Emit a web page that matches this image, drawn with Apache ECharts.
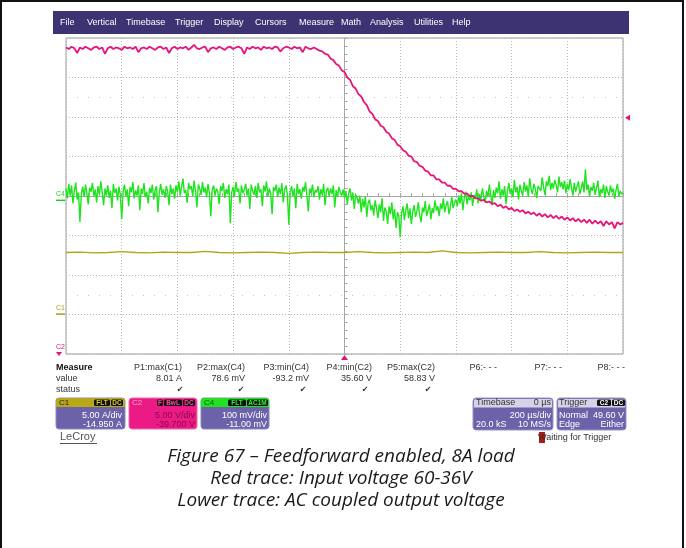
<!DOCTYPE html>
<html>
<head>
<meta charset="utf-8">
<script src="https://cdn.jsdelivr.net/npm/echarts@6/dist/echarts.min.js"></script>
<style>
  html, body { margin: 0; padding: 0; background: #fff; }
  #chart { width: 686px; height: 548px; }
</style>
</head>
<body>
<div id="chart"></div>
<script>
// ---- Acquisition: 200 us/div, trigger at 0 us, 10 divisions ----
const timeStart = -1000;          // us, left edge of the screen
const timeEnd = 1000;             // us, right edge
const divTime = 200;              // us per division

// C2: input voltage (V), one sample every 10 us
const c2Step = 10;
const c2Volts = [
  58.5, 58.3, 58.6, 58.4, 57.8, 58.5, 58.3, 58.6, 58.4, 58.2,
  58.5, 58.6, 58.3, 58.5, 57.7, 58.4, 58.6, 58.3, 58.5, 58.4,
  58.2, 58.6, 58.4, 58.5, 58.3, 58.6, 57.9, 58.4, 58.5, 58.3,
  58.6, 58.4, 58.2, 58.5, 58.6, 58.3, 58.5, 57.8, 58.4, 58.6,
  58.3, 58.5, 58.4, 58.6, 58.2, 58.5, 58.83, 58.4, 58.3, 58.5,
  58.6, 57.9, 58.4, 58.5, 58.3, 58.6, 58.4, 58.2, 58.5, 58.6,
  58.3, 58.5, 58.6, 58.4, 57.7, 58.5, 58.3, 58.6, 58.4, 58.5,
  58.2, 58.6, 58.4, 58.5, 58.3, 58.6, 58.5, 58.0, 58.4, 58.6,
  58.5, 58.3, 58.6, 58.4, 58.5, 57.9, 58.6, 58.4, 58.3, 58.5,
  58.3, 58.1, 58.0, 57.7, 57.6, 57.1, 56.9, 56.4, 56.2, 55.6,
  55.4, 54.7, 54.4, 53.6, 53.3, 52.6, 52.3, 51.6, 51.2, 50.4,
  50.1, 49.4, 49.2, 48.6, 48.4, 47.8, 47.6, 47.0, 46.8, 46.2,
  46.0, 45.5, 45.3, 44.8, 44.7, 44.1, 44.0, 43.5, 43.4, 42.9,
  42.8, 42.3, 42.3, 41.8, 41.8, 41.4, 41.4, 41.0, 41.0, 40.6,
  40.6, 40.3, 40.3, 40.0, 40.0, 39.7, 39.7, 39.4, 39.4, 39.1,
  39.2, 38.9, 39.0, 38.7, 38.8, 38.4, 38.6, 38.2, 38.4, 38.0,
  38.2, 37.8, 38.0, 37.7, 37.9, 37.5, 37.7, 37.4, 37.6, 37.2,
  37.5, 37.1, 37.4, 37.0, 37.3, 36.9, 37.2, 36.8, 37.1, 36.7,
  37.0, 36.6, 36.9, 36.5, 36.8, 36.4, 36.7, 36.3, 36.7, 36.2,
  36.6, 36.2, 36.5, 35.9, 36.5, 36.1, 36.4, 35.6, 36.4, 36.1,
  36.3
];

// C4: AC coupled output voltage (mV), one sample every 5 us
const c4Step = 5;
const c4MilliVolts = [
  30, 5, 42, 12, 38, -8, 25, 45, 2, 20,
  -55, 15, 35, 8, 40, 18, -10, 32, 22, 44,
  10, 28, -5, 36, 15, 48, 20, -12, 30, 12,
  38, 6, 25, -20, 42, 18, 30, 0, 35, 14,
  -48, 22, 40, 10, 28, -15, 34, 20, 46, 5,
  25, 12, 38, -25, 30, 16, 44, 8, 22, -8,
  32, 18, 40, 2, 26, 36, -30, 20, 42, 14,
  28, 6, 36, 22, -12, 40, 16, 30, 4, 38,
  20, 48, 12, 34, 55, 18, 26, -6, 44, 28,
  36, 10, 50, 24, -18, 40, 30, 14, 46, 20,
  32, 8, 42, 18, -40, 26, 38, 12, 30, 22,
  -10, 36, 24, 44, 6, 28, 16, 40, -58, 20,
  34, 10, 46, 22, 30, -8, 38, 18, 26, 42,
  12, 30, -22, 40, 24, 14, 36, 6, 44, 20,
  28, -15, 38, 22, 48, 10, 30, 18, -35, 34,
  24, 40, 8, 32, 16, 44, -5, 26, 38, 14,
  -62, 20, 36, 10, 30, -20, 42, 16, 28, 4,
  34, 22, 46, 12, -28, 30, 18, 40, 8, 26,
  20, 36, 2, 28, 14, 42, -12, 24, 32, 10,
  30, 16, 38, -18, 26, 8, 34, 20, 12, 28,
  6, 24, -10, 18, 30, 0, 20, -22, 14, 8,
  -8, 12, -30, 4, -18, 10, -42, -6, 2, -25,
  -12, -38, 0, -20, -45, -10, -30, 5, -52, -18,
  -28, -60, -15, -35, -5, -48, -22, -70, -30, -40,
  -93.2, -32, -15, -50, -25, -8, -45, -20, -60, -30,
  -12, -42, -28, -5, -38, -55, -18, -30, -2, -40,
  -25, -10, -48, -20, -32, 0, -26, -15, -40, -8,
  -22, 5, -30, -12, -2, -35, -18, 8, -20, -6,
  2, -15, 12, -8, 18, -25, 6, 22, -10, 10,
  0, 20, -14, 14, 4, 28, -8, 16, 2, 30,
  10, -5, 24, 8, 40, 14, -12, 26, 6, 32,
  18, 48, 4, 28, 12, 36, -10, 22, 44, 16,
  30, 8, 52, 20, 34, 2, 40, 24, 12, 46,
  22, 38, 10, 56, 28, 16, 42, 30, 6, 36,
  40, 24, 58, 32, 14, 48, 36, 62, 26, 44,
  30, 52, 38, 20, 60, 34, 46, 28, 50, 18,
  42, 26, 54, 32, 12, 44, 22, 36, 48, 16,
  30, 48, 20, 78.6, 26, 40, 10, 34, 24, 44,
  14, 32, 50, 8, 28, 18, 40, 6, 36, 22,
  12, 38, 20, 30, 4, 26, 42, 10, 24, 16,
  20
];

// C1: load current (A), one sample every 50 us
const c1Step = 50;
const c1Amps = [
  7.8, 7.85, 7.75, 7.8, 7.9, 7.8, 7.75, 7.85, 7.8, 7.8,
  7.95, 7.8, 7.75, 7.8, 7.85, 7.8, 7.7, 7.8, 7.85, 7.8,
  7.8, 7.9, 7.8, 7.75, 7.8, 7.85, 7.8, 8.01, 7.8, 7.75,
  7.8, 7.85, 7.8, 7.8, 7.9, 7.8, 7.75, 7.8, 7.85, 7.8,
  7.8
];

// Vertical settings: scale per division and offset of each channel
const c1Scale = 5, c1Offset = -14.95;     // A/div, A
const c2Scale = 5, c2Offset = -39.7;      // V/div, V
const c4Scale = 100, c4Offset = -11.0;    // mV/div, mV
const triggerLevel = 49.6;                // V on C2

// Measurement table
const measureHeads = ['P1:max(C1)', 'P2:max(C4)', 'P3:min(C4)', 'P4:min(C2)', 'P5:max(C2)', 'P6:- - -', 'P7:- - -', 'P8:- - -'];
const measureValues = ['8.01 A', '78.6 mV', '-93.2 mV', '35.60 V', '58.83 V', '', '', ''];
const measureOk = [true, true, true, true, true, false, false, false];

const menuItems = ['File', 'Vertical', 'Timebase', 'Trigger', 'Display', 'Cursors', 'Measure', 'Math', 'Analysis', 'Utilities', 'Help'];
const captionLines = [
  'Figure 67 \u2013 Feedforward enabled, 8A load',
  'Red trace: Input voltage 60-36V',
  'Lower trace: AC coupled output voltage'
];

// ---- helpers ----
function pairs(start, step, values) {
  return values.map((v, i) => [start + i * step, v]);
}
const UI_FONT = '"Liberation Sans", Arial, sans-serif';
function txt(x, y, s, extra) {
  return {
    type: 'text', x: x, y: y, silent: true, z: 10,
    style: Object.assign({
      text: s, fill: '#333', font: '9px ' + UI_FONT,
      align: 'left', verticalAlign: 'middle'
    }, extra || {})
  };
}
function box(x, y, w, h, fill, r, stroke) {
  return {
    type: 'rect', silent: true, z: 5,
    shape: { x: x, y: y, width: w, height: h, r: r || 0 },
    style: { fill: fill, stroke: stroke || null, lineWidth: stroke ? 1 : 0 }
  };
}
function badge(x, w, label, color) {
  return [
    box(x, 399.5, w, 6.5, '#111', 1.5),
    txt(x + w / 2, 403, label, { fill: color, font: 'bold 6.5px ' + UI_FONT, align: 'center' })
  ];
}

const GRID = { left: 66, top: 38, width: 557, height: 316 };
const axisGrey = '#a6a6a6';

const chart = echarts.init(document.getElementById('chart'), null, { renderer: 'canvas' });

const option = {
  animation: false,
  backgroundColor: '#fff',
  grid: Object.assign({ show: true, borderColor: '#9c9c9c', borderWidth: 1, backgroundColor: '#fff' }, GRID),
  xAxis: [{
    type: 'value', min: timeStart, max: timeEnd, interval: divTime,
    axisLabel: { show: false },
    axisLine: { show: true, onZero: true, onZeroAxisIndex: 0, lineStyle: { color: axisGrey, width: 1 } },
    axisTick: { show: true, inside: true, length: 3, lineStyle: { color: axisGrey } },
    minorTick: { show: true, splitNumber: 5, length: 3, lineStyle: { color: axisGrey } },
    splitLine: { show: true, lineStyle: { color: '#b8b8b8', width: 1, type: [1, 2] } }
  }],
  yAxis: [
    {
      // graticule in divisions
      type: 'value', min: -4, max: 4, interval: 1,
      axisLabel: { show: false },
      axisLine: { show: true, onZero: true, onZeroAxisIndex: 0, lineStyle: { color: axisGrey, width: 1 } },
      axisTick: { show: true, inside: true, length: 3, lineStyle: { color: axisGrey } },
      minorTick: { show: true, splitNumber: 5, length: 3, lineStyle: { color: axisGrey } },
      splitLine: { show: true, lineStyle: { color: '#b8b8b8', width: 1, type: [1, 2] } }
    },
    { type: 'value', show: false, min: -c2Offset - 4 * c2Scale, max: -c2Offset + 4 * c2Scale },
    { type: 'value', show: false, min: -c4Offset - 4 * c4Scale, max: -c4Offset + 4 * c4Scale },
    { type: 'value', show: false, min: -c1Offset - 4 * c1Scale, max: -c1Offset + 4 * c1Scale }
  ],
  series: [
    {
      name: 'guides', type: 'line', xAxisIndex: 0, yAxisIndex: 0, data: [],
      markLine: {
        silent: true, symbol: 'none', label: { show: false },
        lineStyle: { color: '#c4c4c4', width: 1, type: [1, 10] },
        data: [{ yAxis: 2.5 }, { yAxis: -2.5 }]
      }
    },
    {
      name: 'C1', type: 'line', xAxisIndex: 0, yAxisIndex: 3,
      data: pairs(timeStart, c1Step, c1Amps),
      showSymbol: false, lineStyle: { color: '#b4a414', width: 1.3 }, z: 3
    },
    {
      name: 'C4', type: 'line', xAxisIndex: 0, yAxisIndex: 2,
      data: pairs(timeStart, c4Step, c4MilliVolts),
      showSymbol: false, lineStyle: { color: '#1fe31f', width: 1.4 }, z: 4
    },
    {
      name: 'C2', type: 'line', xAxisIndex: 0, yAxisIndex: 1,
      data: pairs(timeStart, c2Step, c2Volts),
      showSymbol: false, lineStyle: { color: '#e6157a', width: 1.8 }, z: 5
    }
  ]
};
chart.setOption(option);

// ---- screen decorations that follow channel offsets ----
const c4Zero = chart.convertToPixel({ yAxisIndex: 2 }, 0);
const c1Zero = chart.convertToPixel({ yAxisIndex: 3 }, 0);
const trigY = chart.convertToPixel({ yAxisIndex: 1 }, triggerLevel);
const trigX = chart.convertToPixel({ xAxisIndex: 0 }, 0);
const plotRight = GRID.left + GRID.width;
const plotBottom = GRID.top + GRID.height;

const g = [];
// outer frame
g.push({ type: 'rect', silent: true, shape: { x: 1, y: 1, width: 682, height: 600 },
  style: { fill: null, stroke: '#111', lineWidth: 2 } });
// menu bar
g.push(box(53, 11, 576, 23, '#3d3272'));
const menuX = [60, 87, 126, 175, 214, 255, 299, 341, 370, 414, 452];
menuItems.forEach((m, i) => g.push(txt(menuX[i], 22.5, m, { fill: '#fff', font: '9px ' + UI_FONT })));

// channel ground markers
g.push(txt(56, c4Zero - 6, 'C4', { fill: '#22cc22', font: '7px ' + UI_FONT }));
g.push({ type: 'line', silent: true, shape: { x1: 56, y1: c4Zero, x2: 65, y2: c4Zero }, style: { stroke: '#22cc22', lineWidth: 1.5 } });
g.push(txt(56, c1Zero - 6, 'C1', { fill: '#a89a10', font: '7px ' + UI_FONT }));
g.push({ type: 'line', silent: true, shape: { x1: 56, y1: c1Zero, x2: 65, y2: c1Zero }, style: { stroke: '#a89a10', lineWidth: 1.5 } });
g.push(txt(56, plotBottom - 7, 'C2', { fill: '#e0157a', font: '7px ' + UI_FONT }));
g.push({ type: 'polygon', silent: true, shape: { points: [[56, plotBottom - 2], [62, plotBottom - 2], [59, plotBottom + 2]] }, style: { fill: '#e0157a' } });

// trigger level and trigger time markers
g.push({ type: 'polygon', silent: true, shape: { points: [[plotRight + 2, trigY], [plotRight + 7, trigY - 3], [plotRight + 7, trigY + 3]] }, style: { fill: '#e0157a' } });
g.push({ type: 'polygon', silent: true, shape: { points: [[trigX, plotBottom + 1], [trigX - 3.5, plotBottom + 6], [trigX + 3.5, plotBottom + 6]] }, style: { fill: '#e0157a' } });

// measurement table
g.push(txt(56, 368, 'Measure', { fill: '#111', font: 'bold 9px ' + UI_FONT }));
g.push(txt(56, 379, 'value'));
g.push(txt(56, 390, 'status'));
const colRight = [182, 245, 309, 372, 435, 497, 562, 625];
const checkX = [180, 241, 303, 365, 428];
measureHeads.forEach((h, i) => {
  g.push(txt(colRight[i], 368, h, { align: 'right' }));
  if (measureValues[i]) g.push(txt(colRight[i], 379, measureValues[i], { align: 'right' }));
  if (measureOk[i]) g.push(txt(checkX[i], 390, '\u2714', { align: 'center', fill: '#333', font: '8px "DejaVu Sans", sans-serif' }));
});

// channel descriptor boxes
const purple = '#6b62aa';
// C1
g.push(box(56, 398, 69, 31, purple, 3, '#8e86c4'));
g.push(box(56, 398, 69, 9, '#b7a817', [3, 3, 0, 0]));
g.push(txt(59, 402.5, 'C1', { fill: '#222', font: '8px ' + UI_FONT }));
badge(94, 16, 'FLT', '#d8c830').forEach(e => g.push(e));
badge(111, 12, 'DC', '#d8c830').forEach(e => g.push(e));
g.push(txt(122, 416, '5.00 A/div', { align: 'right', fill: '#fff' }));
g.push(txt(122, 425, '-14.950 A', { align: 'right', fill: '#fff' }));
// C2
g.push(box(129, 398, 68, 31, '#ec1a86', 3, '#f06aa8'));
g.push(txt(132, 402.5, 'C2', { fill: '#f9a8cf', font: '8px ' + UI_FONT }));
badge(157, 6, 'F', '#ff4aa0').forEach(e => g.push(e));
badge(164, 18, 'BwL', '#ff4aa0').forEach(e => g.push(e));
badge(183, 12, 'DC', '#ff4aa0').forEach(e => g.push(e));
g.push(txt(195, 416, '5.00 V/div', { align: 'right', fill: '#8a0a44' }));
g.push(txt(195, 425, '-39.700 V', { align: 'right', fill: '#8a0a44' }));
// C4
g.push(box(201, 398, 68, 31, purple, 3, '#8e86c4'));
g.push(box(201, 398, 68, 9, '#22e022', [3, 3, 0, 0]));
g.push(txt(204, 402.5, 'C4', { fill: '#0c5c0c', font: '8px ' + UI_FONT }));
badge(228, 18, 'FLT', '#30f030').forEach(e => g.push(e));
badge(247, 21, 'AC1M', '#30f030').forEach(e => g.push(e));
g.push(txt(267, 416, '100 mV/div', { align: 'right', fill: '#fff' }));
g.push(txt(267, 425, '-11.00 mV', { align: 'right', fill: '#fff' }));

// timebase box
g.push(box(473, 398, 80, 32, purple, 3, '#9a93c8'));
g.push(box(474, 399, 78, 8.5, '#d6d3e6', [2, 2, 0, 0]));
g.push(txt(476, 403, 'Timebase', { fill: '#333' }));
g.push(txt(551, 403, '0 \u00b5s', { align: 'right', fill: '#333' }));
g.push(txt(551, 416, '200 \u00b5s/div', { align: 'right', fill: '#fff' }));
g.push(txt(476, 425, '20.0 kS', { fill: '#fff' }));
g.push(txt(551, 425, '10 MS/s', { align: 'right', fill: '#fff' }));
// trigger box
g.push(box(557, 398, 69, 32, purple, 3, '#9a93c8'));
g.push(box(558, 399, 67, 8.5, '#d6d3e6', [2, 2, 0, 0]));
g.push(txt(559, 403, 'Trigger', { fill: '#333' }));
badge(597, 14, 'C2', '#fff').forEach(e => g.push(e));
badge(612, 13, 'DC', '#fff').forEach(e => g.push(e));
g.push(txt(559, 416, 'Normal', { fill: '#fff' }));
g.push(txt(624, 416, '49.60 V', { align: 'right', fill: '#fff' }));
g.push(txt(559, 425, 'Edge', { fill: '#fff' }));
g.push(txt(624, 425, 'Either', { align: 'right', fill: '#fff' }));

// status line
g.push(box(539, 432, 6, 11, '#b01818'));
g.push(txt(538, 437.5, 'Waiting for Trigger', { fill: '#333' }));
g.push(txt(60, 437, 'LeCroy', { fill: '#555', font: '11px ' + UI_FONT }));
g.push({ type: 'line', silent: true, shape: { x1: 60, y1: 443.5, x2: 97, y2: 443.5 }, style: { stroke: '#555', lineWidth: 1 } });

// caption
const capY = [457, 479, 501];
captionLines.forEach((c, i) => g.push(txt(341, capY[i], c, {
  align: 'center', fill: '#1a1a1a', font: 'italic 19px "Open Sans", "Noto Sans", sans-serif'
})));

chart.setOption({ graphic: { elements: g } });
</script>
</body>
</html>
